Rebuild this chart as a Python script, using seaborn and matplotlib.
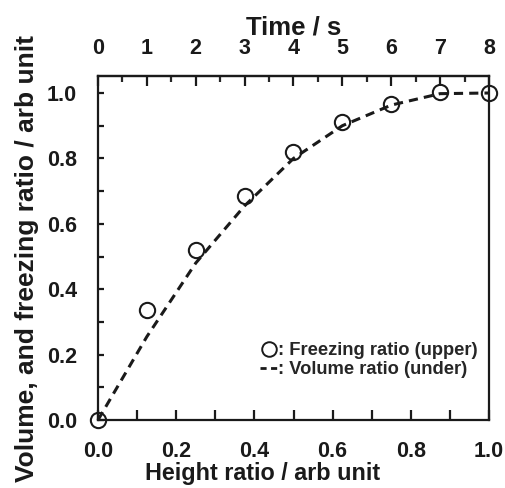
import numpy as np
import pandas as pd
import matplotlib
matplotlib.use("Agg")
import matplotlib.pyplot as plt
import seaborn as sns
from matplotlib.lines import Line2D
from matplotlib.ticker import MultipleLocator

# values
height_ratio = [0.0, 0.125, 0.25, 0.375, 0.5, 0.625, 0.75, 0.875, 1.0]
freezing_ratio = [0.0, 0.335, 0.52, 0.685, 0.82, 0.912, 0.966, 1.003, 1.0]
volume_ratio = [0.0, 0.255, 0.48, 0.655, 0.80, 0.90, 0.963, 0.998, 1.0]
time_ticks = [0, 1, 2, 3, 4, 5, 6, 7, 8]
time_max = 8

df = pd.DataFrame({
    'height': height_ratio,
    'freezing': freezing_ratio,
    'volume': volume_ratio,
})

ink = '#1a1a1a'

sns.set_theme(style="ticks")
plt.rcParams['font.family'] = ['Liberation Sans', 'DejaVu Sans']
plt.rcParams['font.weight'] = 'bold'

fig = plt.figure(figsize=(5.06, 4.88), dpi=100)
ax = fig.add_axes([98 / 506, 1 - 420 / 488, (489 - 98) / 506, (420 - 76) / 488])

sns.lineplot(data=df, x='height', y='volume', ax=ax, color=ink,
             linewidth=2.2, dashes=False, linestyle=(0, (3.0, 2.0)),
             clip_on=False)
ax.plot(df['height'], df['freezing'], linestyle='none', marker='o',
        markersize=11, markerfacecolor='none', markeredgecolor=ink,
        markeredgewidth=1.5, clip_on=False)

ax.set_xlim(0, 1.0)
ax.set_ylim(0, 1.052)

ax.xaxis.set_major_locator(MultipleLocator(0.2))
ax.xaxis.set_minor_locator(MultipleLocator(0.1))
ax.yaxis.set_major_locator(MultipleLocator(0.2))
ax.yaxis.set_minor_locator(MultipleLocator(0.1))
ax.xaxis.set_major_formatter(plt.FormatStrFormatter('%.1f'))
ax.yaxis.set_major_formatter(plt.FormatStrFormatter('%.1f'))

for sp in ax.spines.values():
    sp.set_linewidth(1.6)
    sp.set_color(ink)

ax.tick_params(axis='x', which='both', direction='in', length=7, width=1.6,
               pad=15, labelsize=15.5, colors=ink)
ax.tick_params(axis='y', which='both', direction='in', length=4, width=1.6,
               pad=15, labelsize=15.5, colors=ink)

ax.set_xlabel('Height ratio / arb unit', fontsize=16.8, fontweight='bold',
              color=ink)
ax.xaxis.set_label_coords(0.42, -0.122)
ax.set_ylabel('Volume, and freezing ratio / arb unit', fontsize=19,
              fontweight='bold', color=ink)
ax.yaxis.set_label_coords(-0.15, 0.47)

top = ax.secondary_xaxis('top', functions=(lambda h: h * time_max,
                                           lambda t: t / time_max))
top.set_xticks(time_ticks)
top.xaxis.set_minor_locator(MultipleLocator(0.5))
top.spines['top'].set_linewidth(1.6)
top.tick_params(axis='x', which='major', direction='in', length=7, width=1.6,
                pad=12, labelsize=15.5, colors=ink)
top.tick_params(axis='x', which='minor', direction='in', length=4, width=1.6)
top.set_xlabel('Time / s', fontsize=18.5, fontweight='bold', labelpad=3,
               color=ink)

handles = [
    Line2D([], [], linestyle='none', marker='o', markersize=10.5,
           markerfacecolor='none', markeredgecolor=ink, markeredgewidth=1.4),
    Line2D([], [], color=ink, linewidth=2.0, linestyle=(0, (2.2, 1.6))),
]
labels = [': Freezing ratio (upper)', ': Volume ratio (under)']
ax.legend(handles, labels, loc='lower right', bbox_to_anchor=(0.99, 0.1),
          frameon=False, handlelength=1.0, handletextpad=0.0,
          labelspacing=0.12, borderaxespad=0,
          prop={'size': 13.2, 'weight': 'bold'})

fig.savefig('out.png', dpi=100)
